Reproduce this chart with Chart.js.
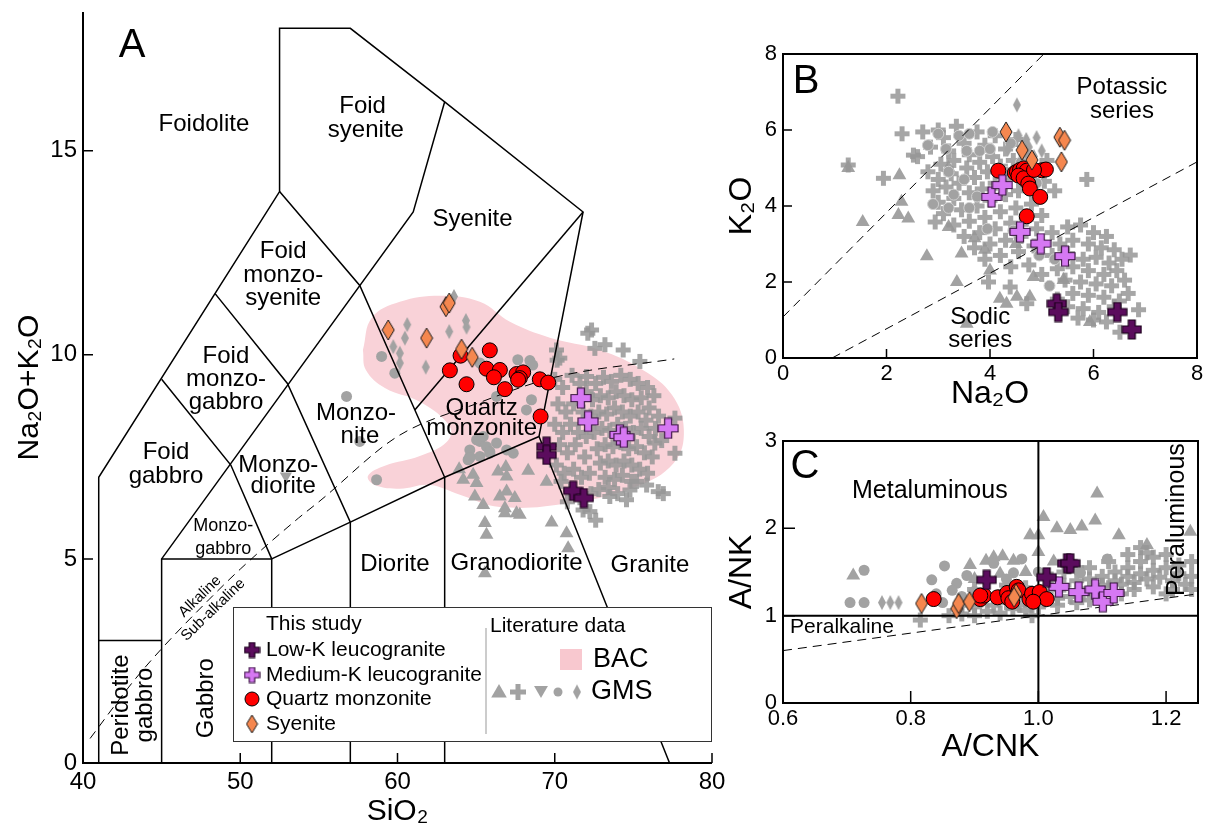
<!DOCTYPE html>
<html>
<head>
<meta charset="utf-8">
<title>TAS, K2O-Na2O and A/NK-A/CNK diagrams</title>
<script src="https://cdn.jsdelivr.net/npm/chart.js@4.4.1/dist/chart.umd.min.js"></script>
<style>
  html, body { margin: 0; padding: 0; background: #fff; }
  #wrap { position: relative; width: 1213px; height: 834px; overflow: hidden; }
  canvas { position: absolute; }
  #tas { left: 0; top: 0; }
  #kna { left: 720px; top: 40px; }
  #acnk { left: 720px; top: 420px; }
</style>
</head>
<body>
<div id="wrap">
  <canvas id="tas" width="740" height="834"></canvas>
  <canvas id="kna" width="493" height="380"></canvas>
  <canvas id="acnk" width="493" height="350"></canvas>
</div>
<script>
// ---------- A: TAS (SiO2 vs Na2O+K2O) ----------
const tasXTicks = [40, 50, 60, 70, 80];
const tasYTicks = [0, 5, 10, 15];

const tasSyenite = [[59.41,10.61],[61.85,10.41],[63.08,11.18],[63.29,11.27],[64.07,10.14],[64.75,9.94]];
const tasQzMonzonite = [[65.87,10.11],[64.01,9.98],[63.33,9.62],[65.66,9.66],[66.51,9.63],[66.13,9.45],[64.39,9.28],
  [66.83,9.16],[67.57,9.53],[67.99,9.57],[67.78,9.43],[67.67,9.39],[69.05,9.40],[69.58,9.32],[69.10,8.49]];
const tasLowK = [[69.48,7.75],[69.48,7.55],[71.17,6.67],[71.85,6.49]];
const tasMedK = [[71.66,8.94],[72.12,8.37],[74.14,8.04],[74.39,7.98],[77.21,8.20]];

// GMS literature data
const tasGmsCross = [
  [72.34,10.61],[72.1,10.53],[72.55,10.16],[73.19,10.25],[74.35,10.12],[75.41,9.84],[70.32,9.92],[70.11,10.12],
  [70.15,9.87],[72.02,9.47],[77.64,8.45],[77.64,7.59],[76.36,7.84],[75.84,6.81],[76.58,6.65],[74.78,6.69],
  [74.56,6.45],[73.5,6.53],[72.23,6.16],[72.6,5.95],[75.2,6.9],[76.9,6.6],
  [72.6,9.3],[73.1,9.45],[73.6,9.35],[74.2,9.5],[74.8,9.4],[75.3,9.3],[75.9,9.2],[76.3,9.0],
  [72.4,8.9],[72.9,9.0],[73.4,8.95],[73.9,9.1],[74.4,9.0],[74.9,8.9],[75.5,8.95],[76.0,8.7],[76.6,8.5],
  [72.3,8.5],[72.8,8.6],[73.3,8.55],[73.8,8.7],[74.3,8.6],[74.8,8.5],[75.3,8.6],[75.8,8.4],[76.4,8.2],
  [72.5,8.1],[73.0,8.2],[73.5,8.15],[74.0,8.3],[74.5,8.2],[75.0,8.1],[75.5,8.2],[76.0,8.0],[76.8,7.9],
  [72.7,7.7],[73.2,7.8],[73.7,7.75],[74.2,7.85],[74.7,7.7],[75.2,7.75],[75.7,7.6],[76.2,7.5],
  [72.9,7.35],[73.4,7.4],[73.9,7.3],[74.4,7.4],[74.9,7.3],[75.4,7.2],[75.9,7.1],
  [73.2,7.0],[73.8,6.95],[74.3,7.05],[74.9,6.9],
  [70.0,9.4],[70.5,9.2],[71.1,9.5],[71.6,9.3],[72.0,9.1],
  [70.2,8.8],[70.7,8.6],[71.2,8.8],[71.8,8.6],
  [70.0,8.3],[70.5,8.1],[71.0,8.3],[71.5,8.1],[72.0,8.0],
  [70.3,7.8],[70.8,7.6],[71.3,7.8],[71.9,7.5],
  [70.1,7.3],[70.6,7.1],[71.2,7.2],[71.7,7.0],[72.2,7.1],
  [70.4,6.9],[71.0,6.7],[71.6,6.5],[72.3,6.6],[72.8,6.7],[73.4,6.75],[74.0,6.6],
  [70.8,6.4],[71.8,6.2]
];
const tasGmsTriangle = [[63.92,7.2],[64.18,6.94],[64.81,7.06],[65.03,6.86],[66.4,7.14],[66.89,7.25],[66.94,7.02],
  [68.31,7.16],[69.48,6.89],[64.92,6.53],[65.45,6.32],[66.51,6.53],[66.94,6.65],[67.46,6.49],[66.83,6.24],
  [66.83,6.12],[67.57,6.12],[67.78,6.08],[65.56,5.88],[65.66,5.59],[69.8,5.89],[70.75,5.63],[70.85,5.26],[65.56,4.65]];
const tasGmsDown = [[52.9,7.03]];
const tasGmsCircle = [[56.76,8.98],[57.6,7.88],[58.67,6.94],[58.99,9.96],[59.83,9.55],[67.65,9.88],[68.42,9.86],
  [68.52,8.9],[68.2,8.65],[65.24,7.88],[65.66,7.75],[64.6,7.51],[64.49,7.43],[65.24,7.51],[65.87,7.63],
  [66.94,7.67],[66.3,8.98],[65.03,7.92],[65.45,8.0],[64.6,7.67],[65.87,7.59],[66.3,7.84],[67.36,7.59],
  [64.6,7.47],[65.24,9.8],[68.6,9.75]];
const tasGmsDiamond = [[60.62,10.74],[60.47,10.41],[59.73,10.2],[60.15,10.04],[60.15,9.8],[61.8,9.7],
  [63.29,10.57],[64.35,10.84],[64.39,10.68],[63.59,11.43]];

// BAC compositional field outline
const bacField = [[57.8,10.12],[58.37,10.91],[60.15,11.3],[62.7,11.45],[65.24,11.3],[67.15,10.81],[69.69,10.42],
  [72.87,10.12],[75.6,9.63],[77.45,9.02],[78.21,8.16],[77.57,7.35],[75.09,6.76],[70.96,6.37],[66.51,6.27],
  [63.97,6.57],[62.06,6.81],[60.15,6.72],[58.56,6.81],[58.12,7.03],[59.2,7.28],[61.42,7.52],[63.14,7.87],
  [63.33,8.24],[61.42,8.85],[59.2,9.19],[57.99,9.63],[57.8,10.12]];

// plutonic TAS field boundaries (Middlemost 1994)
const tasBoundaries = [
  [[41,0],[41,7],[52.5,14],[52.5,18],[57,18],[63,16.2],[71.8,13.5],[69,8],[77.3,0]],
  [[41,3],[45,3]],
  [[45,0],[45,5],[61,13.5],[63,16.2]],
  [[45,5],[52,5],[52,0]],
  [[45,9.4],[49.4,7.3],[52,5]],
  [[48.4,11.5],[53,9.3],[57,5.9],[57,0]],
  [[52.5,14],[57.6,11.7],[63,7],[63,0]],
  [[52,5],[57,5.9],[63,7],[69,8]],
  [[61.1,8.65],[71.8,13.5]]
];
// alkaline / sub-alkaline divide (Irvine & Baragar 1971)
const alkalineDivide = [[40.45,0.6],[43.2,2.0],[45,2.8],[48,4.0],[50,4.75],[53.7,6.0],[55,6.4],[60,8.0],
  [65,8.8],[70,9.45],[77.6,9.9]];

// ---------- B: Na2O vs K2O ----------
const knaTicks = [0, 2, 4, 6, 8];
const knaSyenite = [[4.31,5.95],[4.62,5.47],[4.81,5.21],[5.35,5.81],[5.44,5.73],[5.38,5.16]];
const knaQzMonzonite = [[4.16,4.93],[4.48,4.87],[4.52,4.90],[4.58,4.95],[4.65,4.99],[4.71,4.93],[4.55,4.80],
  [4.65,4.73],[4.74,4.59],[4.77,4.46],[4.97,4.24],[5.00,4.94],[5.08,4.96],[4.71,3.73],[4.85,4.95]];
const knaLowK = [[5.29,1.43],[5.32,1.21],[6.46,1.21],[6.74,0.75]];
const knaMedK = [[4.03,4.24],[4.24,4.55],[4.58,3.32],[4.98,3.01],[5.45,2.68]];

const knaGmsCross = [
  [2.6,5.3],[2.85,5.55],[3.1,5.8],[3.35,6.1],[3.2,5.45],[3.5,5.65],[3.75,5.95],[3.05,5.1],[3.3,5.2],[3.6,5.35],
  [3.9,5.6],[4.1,5.85],[2.8,4.9],[3.0,4.7],[3.25,4.85],[3.55,5.0],[3.8,5.15],[4.05,5.3],[4.3,5.5],[4.5,5.75],
  [2.9,4.4],[3.15,4.5],[3.4,4.6],[3.7,4.75],[3.95,4.9],[4.2,5.05],[4.45,5.2],[4.7,5.35],[3.0,4.1],[3.3,4.2],
  [3.6,4.35],[3.85,4.45],[4.1,4.6],[4.35,4.7],[4.6,4.8],[4.85,4.95],[5.1,5.2],[3.1,3.8],[3.45,3.9],[3.75,4.0],
  [4.0,4.15],[4.3,4.3],[4.55,4.4],[4.8,4.5],[5.05,4.65],[5.25,4.4],
  [3.3,3.5],[3.6,3.6],[3.9,3.7],[4.2,3.85],[4.5,3.95],[4.8,4.05],[3.5,3.2],[3.8,3.3],[4.1,3.4],[4.4,3.55],
  [4.7,3.65],[5.0,3.75],[3.7,2.9],[4.0,3.0],[4.3,3.1],[4.6,3.2],[4.9,3.4],[3.9,2.6],[4.2,2.7],[4.55,2.8],
  [4.85,2.95],[4.4,2.4],[4.75,2.45],[5.0,2.2],
  [5.2,3.3],[5.5,3.45],[5.75,3.5],[6.0,3.3],[6.25,3.2],[5.35,3.0],[5.6,3.1],[5.9,3.0],[6.15,2.9],[6.4,2.85],
  [5.2,2.7],[5.5,2.75],[5.8,2.6],[6.05,2.65],[6.3,2.5],[6.55,2.6],[5.3,2.35],[5.6,2.4],[5.9,2.3],[6.2,2.2],
  [6.45,2.3],[5.45,2.05],[5.75,2.0],[6.05,1.95],[6.35,1.9],[6.6,2.05],[5.6,1.7],[5.9,1.65],[6.2,1.6],[6.5,1.5],
  [5.5,1.35],[5.8,1.3],[6.1,1.2],[6.4,1.35],[5.3,1.55],[6.0,1.0],[6.25,0.95],[5.7,1.05],
  [2.22,6.89],[1.26,5.08],[1.94,4.73],[5.87,4.7],[6.71,2.71],[6.67,1.7],[6.87,1.27],[6.51,0.68],[4.39,1.87],
  [4.71,1.43],[3.97,2.0],[2.94,3.58],[2.52,5.34],[2.3,5.9],[2.7,5.95],[3.0,6.0],[4.8,4.45]
];
const knaGmsCircle = [[2.8,5.6],[3.0,5.9],[3.15,5.5],[3.4,5.85],[3.6,5.9],[3.55,5.45],[3.8,5.45],[4.0,5.5],
  [3.2,4.9],[3.5,4.7],[3.3,4.3],[3.75,4.25],[3.6,3.95],[3.95,3.4],[4.3,4.9],[4.6,5.15],[4.9,4.6],[4.45,3.35],
  [3.2,3.95],[4.05,5.95],[4.4,5.65],[4.95,2.7],[5.15,1.9],[5.25,2.6],[2.9,4.05]];
const knaGmsTriangle = [[1.26,5.0],[1.54,3.58],[2.25,4.81],[2.29,4.11],[2.23,3.76],[2.42,3.67],[2.78,2.68],
  [3.36,2.0],[3.55,0.9],[4.19,1.56],[4.32,1.43],[4.52,1.61],[4.77,1.61],[4.84,2.13],[5.93,0.95],[5.42,2.05],
  [3.2,3.45],[3.7,3.15],[4.0,2.3],[3.45,2.75],[4.5,3.0],[3.9,2.85],[3.2,5.0]];
const knaGmsDiamond = [[4.52,6.66],[4.55,5.85],[4.7,5.75],[4.75,5.55],[4.85,5.3],[5.0,5.45],[4.35,5.5],[4.9,5.8]];

// potassic / sodic series dividers
const knaSeriesLines = [[[0,1.08],[5.04,8]], [[0.95,0],[8,5.16]]];

// ---------- C: A/CNK vs A/NK ----------
const acnkXTicks = [0.6, 0.8, 1.0, 1.2];
const acnkYTicks = [0, 1, 2, 3];
const acnkSyenite = [[0.817,1.14],[0.872,1.08],[0.875,1.14],[0.892,1.16],[0.965,1.25],[0.962,1.21]];
const acnkQzMonzonite = [[0.836,1.19],[0.909,1.19],[0.915,1.23],[0.936,1.21],[0.951,1.26],[0.953,1.20],
  [0.959,1.16],[0.966,1.33],[0.969,1.29],[0.986,1.19],[0.990,1.25],[1.002,1.27],[1.013,1.19],[0.992,1.16],[0.909,1.23]];
const acnkLowK = [[0.919,1.41],[1.013,1.44],[1.045,1.60],[1.050,1.60]];
const acnkMedK = [[1.032,1.33],[1.063,1.27],[1.089,1.30],[1.101,1.16],[1.118,1.26]];

const acnkGmsCross = [
  [1.1,1.45],[1.12,1.5],[1.14,1.55],[1.16,1.62],[1.18,1.67],[1.2,1.7],[1.22,1.58],[1.24,1.62],[1.1,1.35],
  [1.12,1.4],[1.14,1.45],[1.16,1.48],[1.18,1.52],[1.2,1.55],[1.22,1.48],[1.24,1.45],[1.09,1.28],[1.11,1.32],
  [1.13,1.36],[1.15,1.38],[1.17,1.42],[1.19,1.44],[1.21,1.4],[1.23,1.36],[1.15,1.3],[1.18,1.33],[1.21,1.3],
  [1.24,1.3],[1.17,1.72],[1.14,1.7],[1.16,1.78],[1.11,1.62],[1.08,1.55],[1.2,1.25],[1.13,1.25],
  [1.0,1.25],[1.02,1.3],[1.04,1.35],[1.06,1.4],[1.08,1.42],[1.01,1.18],[1.03,1.2],[1.05,1.22],[1.07,1.25],
  [1.0,1.1],[1.03,1.12],[1.06,1.15],[1.08,1.18],[1.04,1.5],[1.06,1.55],[1.02,1.42],[0.98,1.32],
  [0.88,1.02],[0.9,1.0],[0.92,1.05],[0.94,1.03],[0.96,1.08],[0.98,1.06],[0.9,1.1],[0.93,1.12],[0.95,1.15],
  [0.97,1.12],[0.99,1.0],[0.86,1.0],[0.815,0.95],[0.88,1.12],[0.91,1.18],[0.94,1.22],[0.97,1.28],[0.95,1.35],
  [0.9,1.3],[0.92,1.4]
];
const acnkGmsCircle = [[0.705,1.15],[0.727,1.15],[0.727,1.52],[0.853,1.57],[0.833,1.41],[0.872,1.37],
  [0.888,1.46],[0.865,1.29],[0.93,1.6],[0.974,1.65],[0.961,1.49],[1.108,1.65],[1.066,1.49],[0.84,1.25],
  [0.88,1.22],[0.9,1.28],[0.85,1.15],[1.0,1.5],[0.95,1.42]];
const acnkGmsTriangle = [[0.71,1.46],[0.893,1.58],[0.918,1.63],[0.93,1.67],[0.944,1.68],[0.961,1.63],[0.98,1.5],
  [0.987,1.92],[1.0,1.92],[1.008,2.13],[1.0,1.73],[1.029,2.0],[1.05,1.98],[1.068,2.02],[1.089,2.09],
  [1.092,2.4],[1.126,1.92],[1.17,1.81],[1.238,1.96],[1.024,1.62],[0.9,1.42],[0.94,1.48]];
const acnkGmsDiamond = [[0.755,1.15],[0.768,1.15],[0.781,1.15]];

const acnkDividers = [[[0.6,1],[1.25,1]], [[1,0],[1,3]]];
const acnkPeralkLine = [[0.6,0.6],[1.25,1.25]];

// ---------- drawing ----------
const FONT = '"Liberation Sans", Arial, Helvetica, sans-serif';
const GRAY = '#a2a2a2';
const pts = arr => arr.map(([x, y]) => ({x, y}));

function plusMark(size, arm, fill, edge) {
  const c = document.createElement('canvas');
  const s = size + 2;
  c.width = c.height = s;
  const g = c.getContext('2d');
  const m = s / 2, h = size / 2, a = arm / 2;
  g.beginPath();
  [[-a,-h],[a,-h],[a,-a],[h,-a],[h,a],[a,a],[a,h],[-a,h],[-a,a],[-h,a],[-h,-a],[-a,-a]]
    .forEach(([dx, dy], i) => i ? g.lineTo(m + dx, m + dy) : g.moveTo(m + dx, m + dy));
  g.closePath();
  g.fillStyle = fill;
  g.fill();
  if (edge) { g.lineWidth = 1.2; g.strokeStyle = edge; g.stroke(); }
  return c;
}

function diamondMark(w, h, fill, edge) {
  const c = document.createElement('canvas');
  c.width = w + 2; c.height = h + 2;
  const g = c.getContext('2d');
  const cx = c.width / 2, cy = c.height / 2;
  g.beginPath();
  g.moveTo(cx, cy - h / 2); g.lineTo(cx + w / 2, cy); g.lineTo(cx, cy + h / 2); g.lineTo(cx - w / 2, cy);
  g.closePath();
  g.fillStyle = fill;
  g.fill();
  if (edge) { g.lineWidth = 1; g.strokeStyle = edge; g.stroke(); }
  return c;
}

const marks = {
  lowK: plusMark(19, 7, '#5b0c5d', '#1a001a'),
  medK: plusMark(20, 7, '#d678f3', '#3b1542'),
  syenite: diamondMark(12, 20, '#f5874f', '#1a1a1a'),
  grayPlus: plusMark(15, 5, 'rgba(150,150,150,0.85)'),
  grayDiamond: diamondMark(8, 15, GRAY)
};
const legendMarks = {
  lowK: plusMark(15, 5.5, '#5b0c5d', '#1a001a'),
  medK: plusMark(15, 5.5, '#d678f3', '#3b1542'),
  syenite: diamondMark(11, 18, '#f5874f', '#1a1a1a'),
  grayPlus: plusMark(16, 5, GRAY),
  grayDiamond: diamondMark(8, 15, GRAY)
};

function lineSet(path, opts) {
  return Object.assign({data: pts(path), showLine: true, pointRadius: 0, borderColor: '#000',
    borderWidth: 1.5, backgroundColor: '#000', fill: false}, opts);
}

// first dataset is drawn on top
function studySets(syn, lowK, medK, qm) {
  return [
    {data: pts(syn), pointStyle: marks.syenite, pointRadius: 9, backgroundColor: '#f5874f'},
    {data: pts(lowK), pointStyle: marks.lowK, pointRadius: 9, backgroundColor: '#5b0c5d'},
    {data: pts(medK), pointStyle: marks.medK, pointRadius: 9, backgroundColor: '#d678f3'},
    {data: pts(qm), pointStyle: 'circle', pointRadius: 7.5, backgroundColor: '#ff0000', borderColor: '#000', borderWidth: 1}
  ];
}

function gmsSets(g) {
  const sets = [
    {data: pts(g.diamond || []), pointStyle: marks.grayDiamond, pointRadius: 7, backgroundColor: GRAY},
    {data: pts(g.circle || []), pointStyle: 'circle', pointRadius: 5.5, backgroundColor: GRAY, borderColor: g.ring || GRAY, borderWidth: g.ring ? 1 : 0},
    {data: pts(g.down || []), pointStyle: 'triangle', pointRotation: 180, pointRadius: 7, backgroundColor: GRAY, borderWidth: 0},
    {data: pts(g.cross || []), pointStyle: marks.grayPlus, pointRadius: 7, backgroundColor: GRAY},
    {data: pts(g.tri || []), pointStyle: 'triangle', pointRadius: 8, backgroundColor: GRAY, borderWidth: 0}
  ];
  return sets;
}

function axisOpts(o) {
  return {
    type: 'linear', min: o.min, max: o.max,
    grid: {display: false, drawTicks: false},
    border: {display: false},
    ticks: {color: '#000', padding: o.pad, maxRotation: 0, autoSkip: false,
      font: {family: FONT, size: o.size}, callback: o.fmt || (v => String(v))},
    title: {display: true, text: o.title, color: '#000', font: {family: FONT, size: o.titleSize}, padding: o.titlePad},
    afterBuildTicks: s => { s.ticks = o.ticks.map(v => ({value: v})); },
    afterFit: s => {
      if (s.isHorizontal()) s.height = o.band; else s.width = o.band;
      s.paddingLeft = s.paddingRight = s.paddingTop = s.paddingBottom = 0;
    }
  };
}

function drawText(ctx, str, x, y, size, rot, align) {
  ctx.save();
  ctx.translate(x, y);
  if (rot) ctx.rotate(rot * Math.PI / 180);
  ctx.font = `${size}px ${FONT}`;
  ctx.textAlign = align || 'center';
  ctx.textBaseline = 'middle';
  ctx.fillStyle = '#000';
  ctx.fillText(str, 0, 0);
  ctx.restore();
}

// frame, inward tick marks, field names and panel letter
function decorPlugin(cfg) {
  return {
    id: 'decor',
    afterDatasetsDraw(chart) {
      const {ctx, chartArea: a, scales: {x, y}} = chart;
      ctx.save();
      ctx.strokeStyle = '#000';
      ctx.lineWidth = 2;
      ctx.beginPath();
      if (cfg.box) {
        ctx.rect(a.left, a.top, a.right - a.left, a.bottom - a.top);
      } else {
        ctx.moveTo(a.left, a.top); ctx.lineTo(a.left, a.bottom); ctx.lineTo(a.right, a.bottom);
      }
      ctx.stroke();
      ctx.lineWidth = 1.5;
      ctx.beginPath();
      x.ticks.forEach(t => {
        const px = x.getPixelForValue(t.value);
        ctx.moveTo(px, a.bottom); ctx.lineTo(px, a.bottom - cfg.tick);
      });
      y.ticks.forEach(t => {
        const py = y.getPixelForValue(t.value);
        ctx.moveTo(a.left, py); ctx.lineTo(a.left + cfg.tick, py);
      });
      ctx.stroke();
      ctx.restore();
      cfg.names.forEach(([str, vx, vy, size, rot, align]) =>
        drawText(ctx, str, x.getPixelForValue(vx), y.getPixelForValue(vy), size || 24, rot, align));
      drawText(ctx, cfg.letter, a.left + cfg.letterAt[0], a.top + cfg.letterAt[1], 40);
    },
    afterDraw(chart) {
      if (cfg.legend) cfg.legend(chart.ctx, chart.chartArea);
    }
  };
}

function tri(ctx, cx, cy, r, down) {
  const d = down ? -1 : 1;
  ctx.beginPath();
  ctx.moveTo(cx, cy - d * r);
  ctx.lineTo(cx + r * 0.866, cy + d * r * 0.5);
  ctx.lineTo(cx - r * 0.866, cy + d * r * 0.5);
  ctx.closePath();
  ctx.fill();
}

function tasLegend(ctx, a) {
  const L = a.right - 479, T = a.bottom - 156;
  ctx.save();
  ctx.fillStyle = '#fff';
  ctx.fillRect(L, T, 479, 135);
  ctx.strokeStyle = '#333';
  ctx.lineWidth = 1;
  ctx.strokeRect(L + 0.5, T + 0.5, 478, 134);
  const img = (m, x, y) => ctx.drawImage(m, x - m.width / 2, y - m.height / 2);
  drawText(ctx, 'This study', L + 33, T + 17, 21, 0, 'left');
  img(legendMarks.lowK, L + 19, T + 43);
  drawText(ctx, 'Low-K leucogranite', L + 33, T + 43, 21, 0, 'left');
  img(legendMarks.medK, L + 19, T + 68);
  drawText(ctx, 'Medium-K leucogranite', L + 33, T + 68, 21, 0, 'left');
  ctx.beginPath();
  ctx.arc(L + 19, T + 92, 7, 0, Math.PI * 2);
  ctx.fillStyle = '#ff0000'; ctx.fill();
  ctx.strokeStyle = '#000'; ctx.stroke();
  drawText(ctx, 'Quartz monzonite', L + 33, T + 92, 21, 0, 'left');
  img(legendMarks.syenite, L + 19, T + 117);
  drawText(ctx, 'Syenite', L + 33, T + 117, 21, 0, 'left');

  ctx.strokeStyle = '#999';
  ctx.beginPath();
  ctx.moveTo(L + 253, T + 21); ctx.lineTo(L + 253, T + 127);
  ctx.stroke();
  drawText(ctx, 'Literature data', L + 257, T + 19, 21, 0, 'left');
  ctx.fillStyle = '#f8c8cf';
  ctx.fillRect(L + 327, T + 42, 22, 21);
  drawText(ctx, 'BAC', L + 360, T + 53, 27, 0, 'left');
  ctx.fillStyle = GRAY;
  tri(ctx, L + 266, T + 86, 9, false);
  img(legendMarks.grayPlus, L + 285, T + 85);
  tri(ctx, L + 308, T + 83, 8, true);
  ctx.beginPath();
  ctx.arc(L + 325, T + 85, 4.5, 0, Math.PI * 2);
  ctx.fill();
  img(legendMarks.grayDiamond, L + 344, T + 85);
  drawText(ctx, 'GMS', L + 358, T + 85, 27, 0, 'left');
  ctx.restore();
}

function makeChart(id, spec) {
  return new Chart(document.getElementById(id), {
    type: 'scatter',
    data: {datasets: spec.datasets},
    options: {
      responsive: false, animation: false, events: [],
      layout: {padding: spec.pad},
      plugins: {legend: {display: false}, tooltip: {enabled: false}},
      scales: {x: axisOpts(spec.x), y: axisOpts(spec.y)}
    },
    plugins: [decorPlugin(spec.decor)]
  });
}

const dashed = {borderWidth: 1, borderDash: [9, 6]};

makeChart('tas', {
  pad: {left: 0, top: 12, right: 28, bottom: 0},
  x: {min: 40, max: 80, ticks: tasXTicks, size: 24, pad: 5, band: 71, title: 'SiO₂', titleSize: 30, titlePad: {top: 0, bottom: 4}},
  y: {min: 0, max: 18.4, ticks: tasYTicks, size: 24, pad: 6, band: 83, title: 'Na₂O+K₂O', titleSize: 30, titlePad: {top: 12, bottom: 0}},
  datasets: [
    ...studySets(tasSyenite, tasLowK, tasMedK, tasQzMonzonite),
    ...tasBoundaries.map(b => lineSet(b)),
    lineSet(alkalineDivide, Object.assign({cubicInterpolationMode: 'monotone'}, dashed)),
    ...gmsSets({cross: tasGmsCross, tri: tasGmsTriangle, down: tasGmsDown, circle: tasGmsCircle, diamond: tasGmsDiamond}),
    {data: pts(bacField), showLine: true, fill: 'shape', tension: 0.4, backgroundColor: '#f9d2d8',
      borderWidth: 0, borderColor: 'rgba(0,0,0,0)', pointRadius: 0}
  ],
  decor: {
    box: false, tick: 10, letter: 'A', letterAt: [49, 34], legend: tasLegend,
    names: [
      ['Foidolite', 47.69, 15.64],
      ['Foid', 57.78, 16.09], ['syenite', 57.99, 15.51],
      ['Syenite', 64.77, 13.31],
      ['Foid', 52.73, 12.53], ['monzo-', 52.73, 11.94], ['syenite', 52.73, 11.39],
      ['Foid', 49.09, 9.96], ['monzo-', 49.1, 9.4], ['gabbro', 49.1, 8.84],
      ['Foid', 45.28, 7.6], ['gabbro', 45.28, 7.02],
      ['Monzo-', 57.36, 8.57], ['nite', 57.61, 8.0],
      ['Monzo-', 52.42, 7.3], ['diorite', 52.73, 6.77],
      ['Monzo-', 48.92, 5.81, 18], ['gabbro', 48.92, 5.24, 18],
      ['Quartz', 65.35, 8.69], ['monzonite', 65.35, 8.2],
      ['Diorite', 59.83, 4.87], ['Granodiorite', 67.57, 4.89], ['Granite', 76.05, 4.85],
      ['Peridotite', 42.46, 1.42, 24, -90], ['gabbro', 43.94, 1.42, 24, -90],
      ['Gabbro', 47.86, 1.59, 24, -90],
      ['Alkaline', 47.44, 4.08, 15, -44], ['Sub-alkaline', 48.28, 3.75, 15, -44]
    ]
  }
});

makeChart('kna', {
  pad: {left: 0, top: 14, right: 16, bottom: 0},
  x: {min: 0, max: 8, ticks: knaTicks, size: 22, pad: 3, band: 62, title: 'Na₂O', titleSize: 32, titlePad: {top: 0, bottom: 7}},
  y: {min: 0, max: 8, ticks: knaTicks, size: 22, pad: 6, band: 63, title: 'K₂O', titleSize: 32, titlePad: {top: 3, bottom: 0}},
  datasets: [
    ...studySets(knaSyenite, knaLowK, knaMedK, knaQzMonzonite),
    ...knaSeriesLines.map(l => lineSet(l, dashed)),
    ...gmsSets({cross: knaGmsCross, tri: knaGmsTriangle, circle: knaGmsCircle, diamond: knaGmsDiamond, ring: '#cfcfcf'})
  ],
  decor: {
    box: true, tick: 9, letter: 'B', letterAt: [23, 28],
    names: [
      ['Potassic', 6.55, 7.13], ['series', 6.55, 6.5],
      ['Sodic', 3.81, 1.06], ['series', 3.81, 0.47]
    ]
  }
});

makeChart('acnk', {
  pad: {left: 0, top: 21, right: 15, bottom: 0},
  x: {min: 0.6, max: 1.25, ticks: acnkXTicks, size: 22, pad: 3, band: 67, title: 'A/CNK', titleSize: 32,
    titlePad: {top: 0, bottom: 4}, fmt: v => v.toFixed(1)},
  y: {min: 0, max: 3, ticks: acnkYTicks, size: 22, pad: 6, band: 63, title: 'A/NK', titleSize: 32, titlePad: {top: 3, bottom: 0}},
  datasets: [
    ...studySets(acnkSyenite, acnkLowK, acnkMedK, acnkQzMonzonite),
    ...acnkDividers.map(l => lineSet(l, {borderWidth: 2})),
    lineSet(acnkPeralkLine, dashed),
    ...gmsSets({cross: acnkGmsCross, tri: acnkGmsTriangle, circle: acnkGmsCircle, diamond: acnkGmsDiamond})
  ],
  decor: {
    box: true, tick: 12, letter: 'C', letterAt: [22, 26],
    names: [
      ['Metaluminous', 0.83, 2.43, 25],
      ['Peraluminous', 1.217, 2.1, 25, -90],
      ['Peralkaline', 0.611, 0.87, 21, 0, 'left']
    ]
  }
});
</script>
</body>
</html>
